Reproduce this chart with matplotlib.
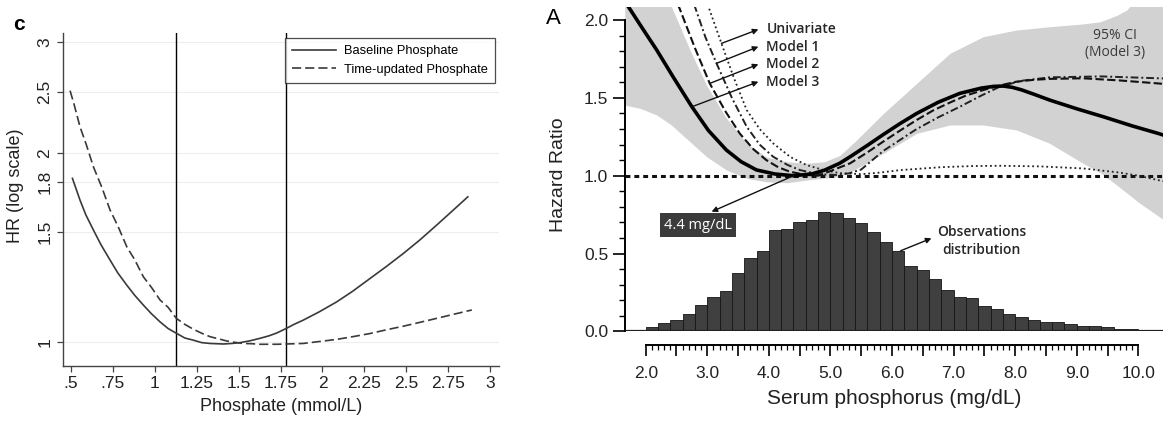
import matplotlib
matplotlib.use("Agg")
import matplotlib.pyplot as plt
import matplotlib.ticker as mticker
import numpy as np

# ---- panel c: HR vs phosphate (mmol/L), log scale ----
base_x = [0.51, 0.53, 0.555, 0.59, 0.635, 0.68, 0.734, 0.78, 0.834, 0.88, 0.933, 0.98,
          1.032, 1.08, 1.129, 1.18, 1.231, 1.28, 1.33, 1.41, 1.46, 1.509, 1.57, 1.628,
          1.68, 1.728, 1.783, 1.83, 1.886, 1.98, 2.085, 2.18, 2.284, 2.38, 2.482, 2.58,
          2.681, 2.77, 2.866]
base_hr = [1.823, 1.76, 1.684, 1.595, 1.509, 1.430, 1.352, 1.290, 1.233, 1.189, 1.146,
           1.111, 1.078, 1.052, 1.034, 1.016, 1.008, 0.999, 0.996, 0.994, 0.996, 0.999,
           1.006, 1.015, 1.024, 1.035, 1.052, 1.068, 1.085, 1.118, 1.160, 1.206, 1.264,
           1.320, 1.385, 1.455, 1.537, 1.615, 1.704]

tu_x = [0.496, 0.52, 0.555, 0.595, 0.635, 0.685, 0.734, 0.78, 0.834, 0.88, 0.933, 0.98,
        1.032, 1.08, 1.129, 1.18, 1.231, 1.28, 1.33, 1.38, 1.43, 1.48, 1.528, 1.58,
        1.628, 1.68, 1.728, 1.78, 1.886, 1.98, 2.085, 2.18, 2.284, 2.38, 2.482, 2.58,
        2.681, 2.78, 2.89]
tu_hr = [2.514, 2.39, 2.203, 2.054, 1.902, 1.765, 1.624, 1.533, 1.419, 1.355, 1.271,
         1.224, 1.168, 1.137, 1.092, 1.068, 1.049, 1.034, 1.021, 1.013, 1.005, 1.0, 0.996,
         0.995, 0.993, 0.993, 0.993, 0.994, 0.996, 1.003, 1.011, 1.021, 1.033, 1.047,
         1.061, 1.076, 1.092, 1.108, 1.126]

cutoffs = [1.13, 1.78]
c_xticks = [0.5, 0.75, 1, 1.25, 1.5, 1.75, 2, 2.25, 2.5, 2.75, 3]
c_xlabels = [".5", ".75", "1", "1.25", "1.5", "1.75", "2", "2.25", "2.5", "2.75", "3"]
c_yticks = [1, 1.5, 1.8, 2, 2.5, 3]
c_ylabels = ["1", "1.5", "1.8", "2", "2.5", "3"]

# ---- panel A: hazard ratio vs serum phosphorus (mg/dL) ----
m3_x = [1.66, 1.72, 1.95, 2.18, 2.45, 2.75, 3.02, 3.31, 3.55, 3.80, 4.10, 4.40, 4.70,
        4.90, 5.15, 5.32, 5.60, 5.86, 6.13, 6.40, 6.75, 7.10, 7.45, 7.65, 7.81, 7.95,
        8.10, 8.30, 8.56, 9.00, 9.43, 9.90, 10.32, 10.40]
m3_hr = [2.125, 2.085, 1.945, 1.807, 1.632, 1.443, 1.290, 1.165, 1.090, 1.037, 1.011,
         1.0, 1.012, 1.035, 1.080, 1.122, 1.195, 1.265, 1.335, 1.400, 1.472, 1.529,
         1.563, 1.574, 1.576, 1.568, 1.552, 1.524, 1.486, 1.430, 1.379, 1.320, 1.272, 1.262]

m2_x = [2.52, 2.55, 2.80, 3.04, 3.30, 3.53, 3.75, 3.96, 4.15, 4.34, 4.60, 4.80, 5.00,
        5.32, 5.60, 5.86, 6.13, 6.40, 6.67, 6.94, 7.20, 7.48, 7.75, 8.02, 8.30, 8.56,
        9.10, 9.70, 10.32, 10.40]
m2_hr = [2.10, 2.075, 1.82, 1.593, 1.41, 1.27, 1.17, 1.10, 1.055, 1.026, 1.005, 1.0,
         1.03, 1.08, 1.15, 1.22, 1.29, 1.358, 1.42, 1.47, 1.515, 1.55, 1.58, 1.604,
         1.616, 1.622, 1.626, 1.612, 1.593, 1.59]

m1_x = [2.78, 2.80, 2.97, 3.15, 3.40, 3.64, 3.85, 4.07, 4.30, 4.50, 4.80, 5.10, 5.30,
        5.50, 5.86, 6.13, 6.40, 6.75, 7.10, 7.45, 7.75, 8.10, 8.56, 9.40, 10.32, 10.40]
m1_hr = [2.10, 2.085, 1.89, 1.722, 1.50, 1.315, 1.20, 1.122, 1.07, 1.037, 1.01, 1.005,
         1.015, 1.04, 1.16, 1.23, 1.30, 1.375, 1.443, 1.515, 1.572, 1.61, 1.632, 1.638,
         1.626, 1.625]

uni_x = [3.00, 3.02, 3.23, 3.44, 3.64, 3.85, 4.07, 4.35, 4.61, 4.90, 5.15, 5.50, 5.80,
         6.13, 6.80, 7.30, 7.75, 8.40, 9.10, 9.70, 10.00, 10.32, 10.40]
uni_hr = [2.10, 2.085, 1.85, 1.62, 1.422, 1.30, 1.208, 1.12, 1.069, 1.035, 1.017, 1.01,
          1.02, 1.036, 1.055, 1.062, 1.064, 1.06, 1.047, 1.02, 1.0, 0.972, 0.965]

ci_x = [1.66, 1.91, 2.18, 2.42, 2.72, 2.99, 3.31, 3.64, 3.96, 4.30, 4.61, 4.90, 5.15, 5.40,
        5.86, 6.40, 6.94, 7.48, 8.02, 8.56, 9.10, 9.38, 9.65, 9.81, 10.0, 10.4]
ci_lo = [1.454, 1.433, 1.39, 1.325, 1.218, 1.122, 1.037, 0.983, 0.961, 0.955, 0.972, 0.985,
         0.994, 1.04, 1.144, 1.272, 1.326, 1.326, 1.294, 1.208, 1.08, 1.02, 0.94, 0.89, 0.83, 0.72]
ci_hi = [2.6, 2.45, 2.25, 2.085, 1.807, 1.58, 1.37, 1.208, 1.12, 1.09, 1.08, 1.09, 1.13, 1.22,
         1.40, 1.593, 1.786, 1.893, 1.936, 1.957, 1.975, 1.989, 2.03, 2.064, 2.15, 2.3]

bin_left = [1.6, 1.8, 2.0, 2.2, 2.4, 2.6, 2.8, 3.0, 3.2, 3.4, 3.6, 3.8, 4.0, 4.2, 4.4, 4.6,
            4.8, 5.0, 5.2, 5.4, 5.6, 5.8, 6.0, 6.2, 6.4, 6.6, 6.8, 7.0, 7.2, 7.4, 7.6, 7.8,
            8.0, 8.2, 8.4, 8.6, 8.8, 9.0, 9.2, 9.4, 9.6, 9.8, 10.0, 10.2]
bin_freq = [0.006, 0.01, 0.028, 0.053, 0.075, 0.111, 0.169, 0.218, 0.259, 0.372, 0.469, 0.518,
            0.653, 0.661, 0.706, 0.713, 0.766, 0.762, 0.730, 0.694, 0.636, 0.576, 0.518, 0.422,
            0.392, 0.336, 0.268, 0.220, 0.212, 0.165, 0.146, 0.113, 0.094, 0.071, 0.058, 0.058,
            0.049, 0.032, 0.036, 0.026, 0.015, 0.015, 0.011, 0.008]

nadir_x = 4.4
nadir_hr = 1.0

ARIAL = ["Liberation Sans", "DejaVu Sans"]
NOTE = ["Open Sans", "DejaVu Sans"]

fig = plt.figure(figsize=(11.63, 4.21), dpi=100)

# ---------------- panel c ----------------
ax = fig.add_axes([0.0542, 0.1306, 0.3749, 0.7910])
line_col = "#3a3a3a"
ax.plot(base_x, base_hr, color=line_col, lw=1.2, label="Baseline Phosphate", zorder=3)
ax.plot(tu_x, tu_hr, color=line_col, lw=1.2, dashes=(5.5, 2.4),
        label="Time-updated Phosphate", zorder=3)
for cx in cutoffs:
    ax.axvline(cx, color="black", lw=1.0, zorder=2)

ax.set_yscale("log")
ax.set_xlim(0.454, 3.052)
ax.set_ylim(0.917, 3.105)
ax.yaxis.set_major_locator(mticker.FixedLocator(c_yticks))
ax.yaxis.set_major_formatter(mticker.FixedFormatter(c_ylabels))
ax.yaxis.set_minor_locator(mticker.NullLocator())
ax.set_xticks(c_xticks)
ax.set_xticklabels(c_xlabels)
for yv in c_yticks:
    ax.axhline(yv, color="#eeeeee", lw=0.8, zorder=0)

for side in ("top", "right"):
    ax.spines[side].set_visible(False)
for side in ("left", "bottom"):
    ax.spines[side].set_color("#444444")
    ax.spines[side].set_linewidth(1.0)
ax.tick_params(axis="both", direction="out", length=4, width=0.9, color="#444444",
               labelcolor="#222222")
for lab in ax.get_xticklabels():
    lab.set_family(ARIAL)
    lab.set_fontsize(12.5)
for lab in ax.get_yticklabels():
    lab.set_family(ARIAL)
    lab.set_fontsize(12.5)
    lab.set_rotation(90)
    lab.set_va("center")
ax.set_xlabel("Phosphate (mmol/L)", family=ARIAL, fontsize=13, color="#222222",
              labelpad=5)
ax.set_ylabel("HR (log scale)", family=ARIAL, fontsize=13, color="#222222")
ax.yaxis.set_label_coords(-0.089, 0.54)

leg = ax.legend(loc="upper right", bbox_to_anchor=(0.991, 0.985), frameon=True,
                fancybox=False, edgecolor="#222222", handlelength=3.4,
                prop={"family": ARIAL, "size": 9.3}, borderpad=0.55,
                labelspacing=0.5, handletextpad=0.6, borderaxespad=0)
leg.get_frame().set_linewidth(0.9)
fig.text(19 / 1163, 1 - 25 / 421, "c", family=ARIAL, fontsize=15, fontweight="bold",
         ha="center", va="center")

# ---------------- panel A ----------------
bx = fig.add_axes([0.5374, 0.2128, 0.4626, 0.7710])
bx.fill_between(ci_x, ci_lo, ci_hi, color="#d2d2d2", lw=0, zorder=1)
bx.bar(bin_left, bin_freq, width=0.2, align="edge", color="#404040",
       edgecolor="#151515", linewidth=0.6, zorder=2)
bx.axhline(1.0, color="#111111", lw=2.2, dashes=(1.6, 1.3), zorder=3)
bx.plot(uni_x, uni_hr, color="#222222", lw=1.3, dashes=(1.0, 1.6), zorder=4)
bx.plot(m1_x, m1_hr, color="#222222", lw=1.4, dashes=(4.0, 1.5, 1.0, 1.5), zorder=4)
bx.plot(m2_x, m2_hr, color="#111111", lw=1.5, dashes=(4.0, 1.6), zorder=4)
bx.plot(m3_x, m3_hr, color="black", lw=2.6, zorder=5)
bx.axhline(0.0, color="#222222", lw=1.6, zorder=3)

bx.set_xlim(1.664, 10.40)
bx.set_ylim(0.0, 2.085)
for side in ("top", "right"):
    bx.spines[side].set_visible(False)
bx.spines["left"].set_bounds(0.0, 2.0)
bx.spines["left"].set_linewidth(1.4)
bx.spines["bottom"].set_position(("outward", 9.8))
bx.spines["bottom"].set_bounds(2.0, 10.0)
bx.spines["bottom"].set_linewidth(1.4)

bx.yaxis.set_major_locator(mticker.MultipleLocator(0.5))
bx.yaxis.set_minor_locator(mticker.MultipleLocator(0.1))
bx.yaxis.set_major_formatter(mticker.FormatStrFormatter("%.1f"))
bx.xaxis.set_major_locator(mticker.MultipleLocator(0.5))
bx.xaxis.set_minor_locator(mticker.FixedLocator(np.arange(2.0, 10.001, 0.1)))
bx.xaxis.set_major_formatter(
    mticker.FuncFormatter(lambda v, _: f"{v:.1f}" if abs(v - round(v)) < 1e-6 else ""))
bx.tick_params(axis="y", which="major", direction="out", length=9, width=1.2, pad=3,
               labelsize=12.5, labelcolor="#222222")
bx.tick_params(axis="y", which="minor", direction="out", length=4.5, width=1.0)
bx.tick_params(axis="x", which="major", direction="out", length=8, width=1.2, pad=7,
               labelsize=12.5, labelcolor="#222222")
bx.tick_params(axis="x", which="minor", direction="out", length=3.5, width=0.9)
for lab in bx.get_xticklabels() + bx.get_yticklabels():
    lab.set_family(ARIAL)
bx.set_xlabel("Serum phosphorus (mg/dL)", family=ARIAL, fontsize=15, color="#222222",
              labelpad=6)
bx.set_ylabel("Hazard Ratio", family=ARIAL, fontsize=14, color="#222222")
bx.yaxis.set_label_coords(-0.108, 0.482)
fig.text(553 / 1163, 1 - 18 / 421, "A", family=ARIAL, fontsize=16, ha="center",
         va="center")

# curve labels with arrows pointing at them
note_col = "#262626"
arrow_kw = dict(arrowstyle="-|>", color="#111111", lw=1.0, mutation_scale=8,
                shrinkA=0, shrinkB=0)
labels = [("Univariate", uni_x, uni_hr, 3.23, 1.94),
          ("Model 1", m1_x, m1_hr, 3.15, 1.829),
          ("Model 2", m2_x, m2_hr, 3.04, 1.716),
          ("Model 3", m3_x, m3_hr, 2.75, 1.604)]
for text, cx, cy, tail_x, lab_y in labels:
    tail_y = np.interp(tail_x, cx, cy)
    bx.annotate("", xy=(3.83, lab_y), xytext=(tail_x, tail_y), arrowprops=arrow_kw,
                zorder=6)
    bx.text(3.96, lab_y, text, family=NOTE, fontsize=10, fontweight="semibold",
            color=note_col, va="center", ha="left", zorder=6)

bx.text(9.62, 1.846, "95% CI\n(Model 3)", family=NOTE, fontsize=10, color="#3a3a3a",
        ha="center", va="center", linespacing=1.25, zorder=6)

bx.annotate("", xy=(3.07, 0.769), xytext=(nadir_x, nadir_hr), arrowprops=arrow_kw,
            zorder=6)
bx.text(2.85, 0.683, f"{nadir_x} mg/dL", family=NOTE, fontsize=10.5, color="white",
        ha="center", va="center", zorder=7,
        bbox=dict(boxstyle="square,pad=0.3", fc="#3b3b3b", ec="none"))

bx.annotate("", xy=(6.64, 0.598), xytext=(6.14, bin_freq[bin_left.index(6.0)]),
            arrowprops=arrow_kw, zorder=6)
bx.text(7.45, 0.58, "Observations\ndistribution", family=NOTE, fontsize=10,
        fontweight="semibold", color=note_col, ha="center", va="center",
        linespacing=1.3, zorder=6)

fig.savefig("out.png", dpi=100)
